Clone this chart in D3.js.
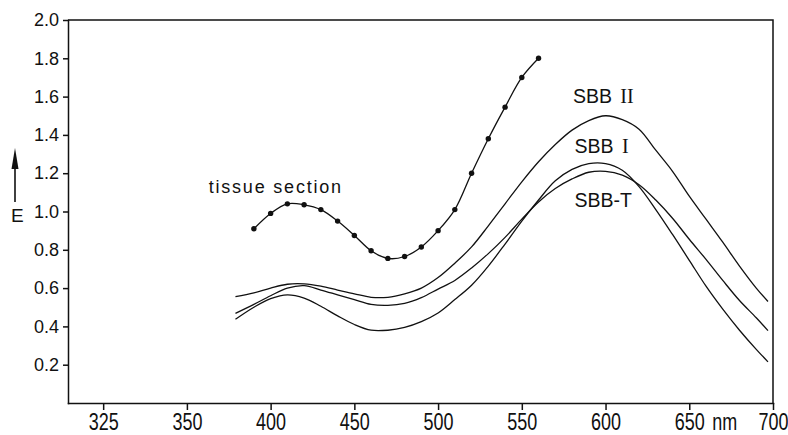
<!DOCTYPE html>
<meta charset="utf-8">
<title>Absorption spectra</title>
<style>

    body {
        margin: 0;
        background: #fff;
    }

    text {
        font-family: "Liberation Sans", Arial, sans-serif;
        fill: #111;
    }

    .curve {
        fill: none;
        stroke: #111;
        stroke-width: 1.3px;
    }

    .frame, .axis path, .axis line {
        stroke: #111;
        stroke-width: 1.5px;
        fill: none;
    }

</style>
<body>
<script src="https://d3js.org/d3.v7.min.js"></script>
<script>

    var w = 788,
        h = 435;

    // tissue section, measured points
    var tissueNm = [390, 400, 410, 420, 430, 440, 450, 460, 470, 480, 490, 500, 510, 520, 530, 540, 550, 560];
    var tissueE = [0.91, 0.99, 1.04, 1.035, 1.01, 0.95, 0.875, 0.795, 0.755, 0.765, 0.815, 0.90, 1.01, 1.20, 1.38, 1.545, 1.70, 1.80];

    // SBB solutions
    var sbbNm = [379, 390, 400, 410, 420, 430, 440, 450, 460, 470, 480, 490, 500, 510, 520, 530, 540, 550,
                 560, 570, 580, 590, 600, 610, 620, 630, 640, 650, 660, 670, 680, 690, 697];
    var sbbII = [0.555, 0.575, 0.60, 0.62, 0.622, 0.61, 0.59, 0.57, 0.552, 0.552, 0.57, 0.60, 0.655, 0.73, 0.815, 0.925, 1.04, 1.155,
                 1.26, 1.35, 1.425, 1.475, 1.50, 1.48, 1.43, 1.32, 1.21, 1.08, 0.96, 0.84, 0.715, 0.60, 0.53];
    var sbbI = [0.437, 0.50, 0.545, 0.565, 0.548, 0.505, 0.455, 0.41, 0.38, 0.38, 0.395, 0.425, 0.47, 0.54, 0.615, 0.715, 0.83, 0.95,
                1.06, 1.16, 1.22, 1.25, 1.25, 1.215, 1.13, 1.01, 0.88, 0.745, 0.61, 0.49, 0.38, 0.28, 0.215];
    var sbbT = [0.468, 0.515, 0.56, 0.60, 0.613, 0.59, 0.565, 0.54, 0.515, 0.51, 0.52, 0.55, 0.595, 0.64, 0.705, 0.78, 0.865, 0.96,
                1.05, 1.12, 1.17, 1.205, 1.21, 1.19, 1.14, 1.06, 0.965, 0.855, 0.75, 0.64, 0.535, 0.445, 0.378];

    // axis ticks (first tick is printed "325" in the original)
    var xTicks = [300, 350, 400, 450, 500, 550, 600, 650, 700];
    var xTickLabels = ["325", "350", "400", "450", "500", "550", "600", "650", "700"];
    var yTicks = [0.2, 0.4, 0.6, 0.8, 1.0, 1.2, 1.4, 1.6, 1.8, 2.0];

    var x = d3.scaleLinear().domain([279, 700]).range([68, 773]),
        y = d3.scaleLinear().domain([0, 2]).range([403, 20]);

    var svg = d3.select("body").append("svg")
        .attr("width", w)
        .attr("height", h);

    // frame top and right
    svg.append("path")
        .attr("class", "frame")
        .attr("d", "M" + x.range()[0] + "," + y(2) + "H" + x.range()[1] + "V" + y(0));

    var xAxis = svg.append("g")
        .attr("class", "axis")
        .attr("transform", "translate(0," + y(0) + ")")
        .call(d3.axisBottom(x)
            .tickValues(xTicks)
            .tickSize(7)
            .tickPadding(3)
            .tickSizeOuter(0)
            .tickFormat(function(d, i) { return xTickLabels[i]; }));

    // the printed x labels are tall and narrow: stretch them vertically
    xAxis.selectAll(".tick text")
        .attr("y", 0)
        .attr("dy", "0.71em")
        .attr("transform", "translate(0,10) scale(1,1.3)")
        .style("font-size", "18px");

    var yAxis = svg.append("g")
        .attr("class", "axis")
        .attr("transform", "translate(" + x(279) + ",0)")
        .call(d3.axisLeft(y)
            .tickValues(yTicks)
            .tickSize(5)
            .tickPadding(4)
            .tickSizeOuter(0)
            .tickFormat(d3.format(".1f")));

    yAxis.selectAll("text")
        .style("font-size", "18px");

    svg.selectAll(".domain").attr("stroke-linecap", "square");

    svg.append("text")
        .attr("transform", "translate(" + (x(650) + 23) + "," + (y(0) + 10) + ") scale(1,1.3)")
        .attr("dy", "0.71em")
        .style("font-size", "18px")
        .text("nm");

    // E with upward arrow
    svg.append("text")
        .attr("x", 11)
        .attr("y", 222)
        .style("font-size", "19px")
        .text("E");

    svg.append("line")
        .attr("x1", 15).attr("x2", 15)
        .attr("y1", 202).attr("y2", 165)
        .attr("stroke", "#111")
        .attr("stroke-width", 1.6);

    svg.append("path")
        .attr("d", "M15,148L18.5,169L11.5,169Z")
        .attr("fill", "#111");

    var line = d3.line()
        .x(function(d) { return x(d[0]); })
        .y(function(d) { return y(d[1]); })
        .curve(d3.curveCatmullRom.alpha(0.5));

    [sbbII, sbbI, sbbT].forEach(function(vals) {
        svg.append("path")
            .attr("class", "curve")
            .attr("d", line(d3.zip(sbbNm, vals)));
    });

    var tissue = d3.zip(tissueNm, tissueE);

    svg.append("path")
        .attr("class", "curve")
        .attr("d", line(tissue));

    svg.selectAll("circle")
        .data(tissue)
        .enter().append("circle")
        .attr("cx", function(d) { return x(d[0]); })
        .attr("cy", function(d) { return y(d[1]); })
        .attr("r", 2.7)
        .attr("fill", "#111");

    // curve labels
    svg.append("text")
        .attr("x", x(363))
        .attr("y", y(1.097))
        .style("font-size", "18px")
        .style("letter-spacing", "1.8px")
        .text("tissue section");

    var labels = [
        {t: "SBB ", n: "II", nm: 580.5, e: 1.567},
        {t: "SBB ", n: "I", nm: 581.5, e: 1.305},
        {t: "SBB-T", n: "", nm: 581.5, e: 1.023}
    ];

    labels.forEach(function(l) {
        var t = svg.append("text")
            .attr("x", x(l.nm))
            .attr("y", y(l.e))
            .style("font-size", "19.5px")
            .style("white-space", "pre")
            .text(l.t);
        if (l.n) {
            t.append("tspan")
                .style("font-family", "'Liberation Serif', serif")
                .style("font-size", "20px")
                .attr("dx", 3)
                .text(l.n);
        }
    });

</script>
